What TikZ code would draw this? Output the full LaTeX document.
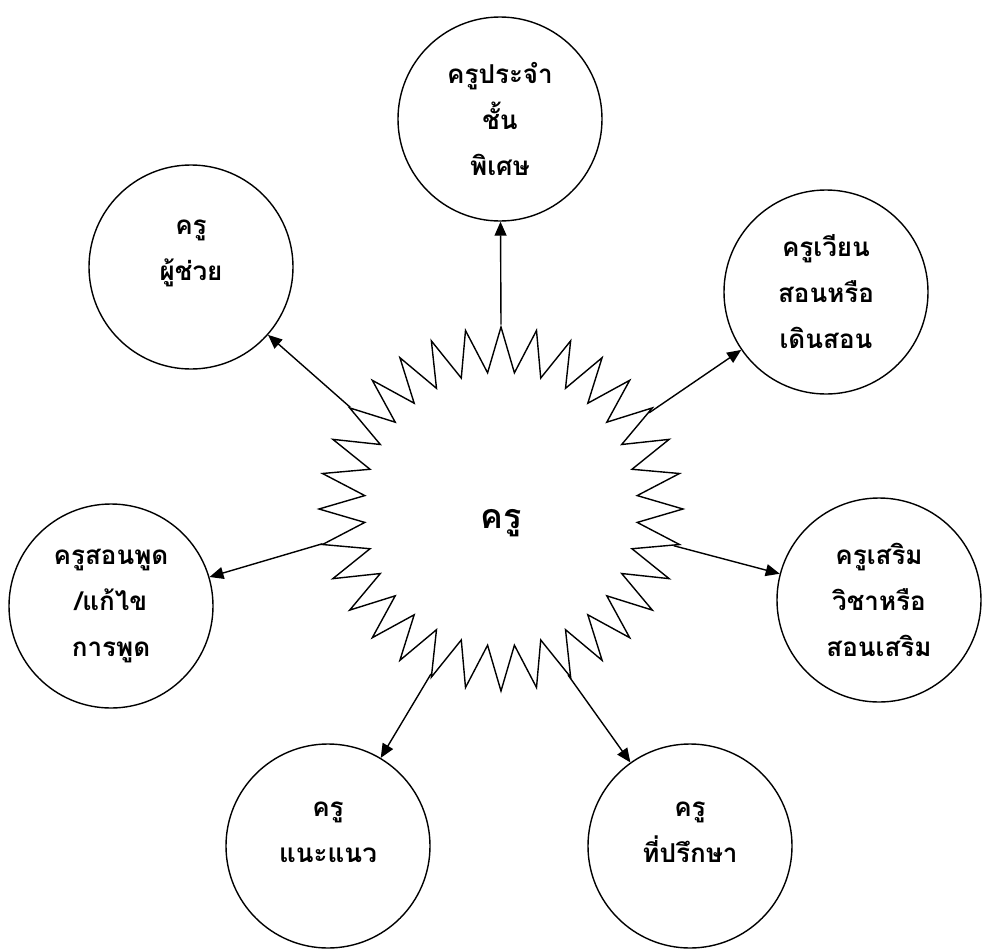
\documentclass[tikz,border=0pt]{standalone}
\usepackage{fontspec}
\newfontfamily\thaifont[Script=Thai]{Loma}
\usepackage{tikz}
\usetikzlibrary{arrows.meta,shapes.geometric}

\begin{document}
\begin{tikzpicture}[x=1pt, y=-1pt, line width=1.4pt,
    every node/.style={font=\thaifont\bfseries\fontsize{26}{46}\selectfont, align=center},
    ring/.style={draw, circle, minimum size=204pt, inner sep=0pt},
    twoline/.style={yshift=14pt}]
  \useasboundingbox (0,0) rectangle (983,951);
  % centre star
  \node[draw, star, star points=32, star point ratio=1.33, minimum size=364pt, inner sep=0pt] (kru) at (501,509) {};
  \node[font=\thaifont\bfseries\fontsize{34}{40}\selectfont] (krutxt) at ([yshift=-14pt]kru.center) {ครู};
  % circles round it
  \node[ring] (top) at (500,119) {};
  \node[ring] (tl) at (191,267) {};
  \node[ring] (tr) at (826,292) {};
  \node[ring] (lft) at (111,606) {};
  \node[ring] (rgt) at (879,600) {};
  \node[ring] (bl) at (328,846) {};
  \node[ring] (br) at (690,846) {};
  % texts
  \node (toptxt) at (top) {ครูประจำ\\ชั้น\\พิเศษ};
  \node[twoline] (tltxt) at (tl) {ครู\\ผู้ช่วย};
  \node (trtxt) at (tr) {ครูเวียน\\สอนหรือ\\เดินสอน};
  \node (lfttxt) at (lft) {ครูสอนพูด\\/แก้ไข\\การพูด};
  \node (rgttxt) at (rgt) {ครูเสริม\\วิชาหรือ\\สอนเสริม};
  \node[twoline] (bltxt) at (bl) {ครู\\แนะแนว};
  \node[twoline] (brtxt) at (br) {ครู\\ที่ปรึกษา};
  % arrows
  \draw[-{Triangle[length=14pt,width=12pt]}] (kru.90) -- (top);
  \draw[-{Triangle[length=14pt,width=12pt]}] (kru.146.25) -- (tl);
  \draw[-{Triangle[length=14pt,width=12pt]}] (kru.33.75) -- (tr);
  \draw[-{Triangle[length=14pt,width=12pt]}] (kru.191.25) -- (lft);
  \draw[-{Triangle[length=14pt,width=12pt]}] (kru.348.75) -- (rgt);
  \draw[-{Triangle[length=14pt,width=12pt]}] (kru.247.5) -- (bl);
  \draw[-{Triangle[length=14pt,width=12pt]}] (kru.292.5) -- (br);
\end{tikzpicture}
\end{document}
